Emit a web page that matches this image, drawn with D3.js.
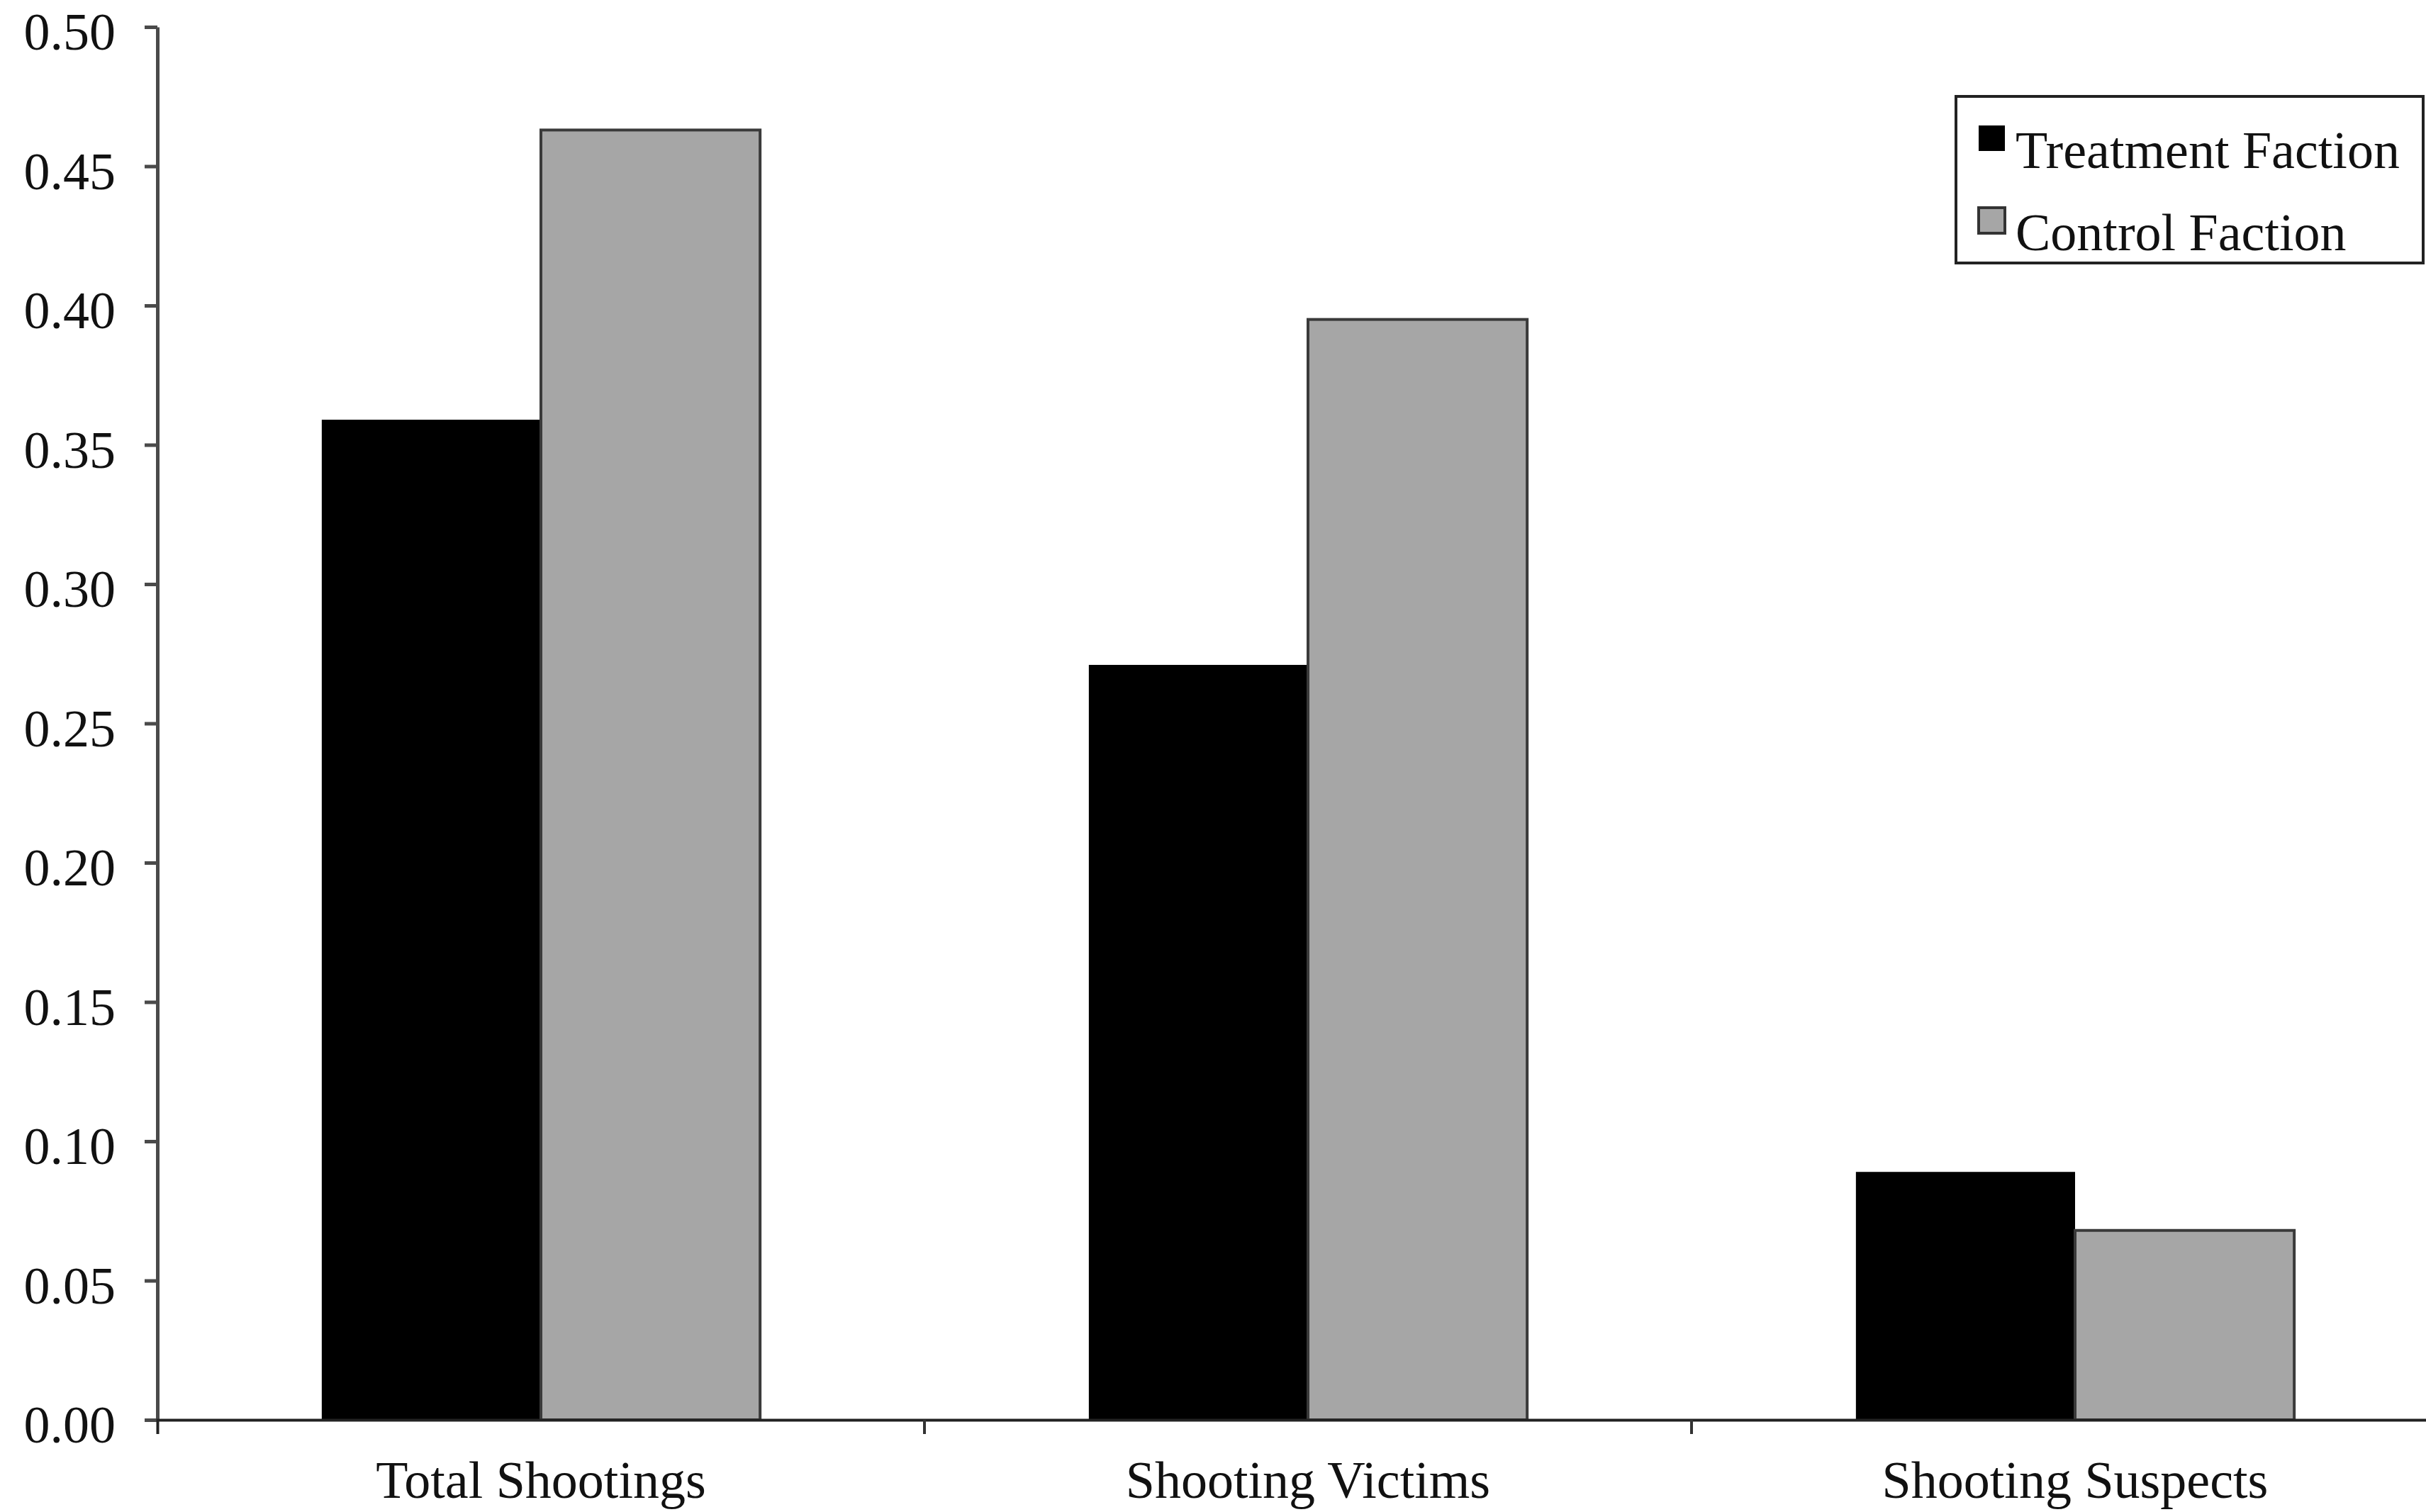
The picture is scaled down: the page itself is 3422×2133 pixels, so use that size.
<!DOCTYPE html>
<html>
<head>
<meta charset="utf-8">
<script src="https://cdn.jsdelivr.net/npm/d3@7"></script>
<style>
  html, body { margin: 0; padding: 0; background: #fff; }
  svg { display: block; }
  text { font-family: "Liberation Serif", "Times New Roman", serif; fill: #111; }
</style>
</head>
<body>
<svg id="chart" width="3422" height="2133"></svg>
<script>
const categories = ["Total Shootings", "Shooting Victims", "Shooting Suspects"];
const seriesNames = ["Treatment Faction", "Control Faction"];
const treatment = [0.359, 0.271, 0.089];
const control = [0.463, 0.395, 0.068];
const yTicks = [0, 0.05, 0.10, 0.15, 0.20, 0.25, 0.30, 0.35, 0.40, 0.45, 0.50];
const colors = ["#000000", "#a6a6a6"];

(function () {
const svg = d3.select("#chart");
const plotLeft = 222, plotBottom = 2003, plotTop = 38;
const bandW = 1082;

const x0 = d3.scaleBand().domain(categories).range([plotLeft, plotLeft + bandW * categories.length]).paddingInner(0).paddingOuter(0);
const x1 = d3.scaleBand().domain(seriesNames).range([0, x0.bandwidth()]).paddingInner(0).paddingOuter(0.75);
const y = d3.scaleLinear().domain([0, 0.5]).range([plotBottom, plotTop]);

const rows = categories.map((c, i) => ({ cat: c, values: [treatment[i], control[i]] }));

// bars
const g = svg.append("g");
rows.forEach(r => {
  r.values.forEach((v, j) => {
    g.append("rect")
      .attr("x", x0(r.cat) + x1(seriesNames[j]))
      .attr("y", y(v))
      .attr("width", x1.bandwidth())
      .attr("height", y(0) - y(v))
      .attr("fill", colors[j])
      .attr("stroke", j === 0 ? "#000" : "#3a3a3a")
      .attr("stroke-width", j === 0 ? 0 : 4);
  });
});

// y axis
const yAxis = d3.axisLeft(y).tickValues(yTicks).tickFormat(d3.format(".2f")).tickSize(18).tickSizeOuter(0).tickPadding(41);
const yg = svg.append("g").attr("transform", `translate(${plotLeft},0)`).call(yAxis);
yg.select(".domain").attr("stroke", "#4a4a4a").attr("stroke-width", 5);
yg.selectAll(".tick line").attr("stroke", "#4a4a4a").attr("stroke-width", 5);
yg.selectAll(".tick text").attr("font-size", 74).attr("dy", "0.43em")
  .attr("font-family", "Liberation Serif").attr("fill", "#111");

// x axis
const xAxis = d3.axisBottom(x0).tickSize(0).tickSizeOuter(20).tickPadding(57);
const xg = svg.append("g").attr("transform", `translate(0,${plotBottom})`).call(xAxis);
xg.select(".domain").attr("stroke", "#222").attr("stroke-width", 4);
xg.selectAll(".tick text").attr("font-size", 74).attr("font-family", "Liberation Serif").attr("fill", "#111");
// boundary ticks between categories
categories.slice(0, -1).forEach(c => {
  const bx = x0(c) + x0.step();
  xg.append("line").attr("x1", bx).attr("x2", bx).attr("y1", 0).attr("y2", 20)
    .attr("stroke", "#333").attr("stroke-width", 4);
});

// legend
const lg = svg.append("g");
lg.append("rect").attr("x", 2759).attr("y", 136).attr("width", 659).attr("height", 235)
  .attr("fill", "#fff").attr("stroke", "#222").attr("stroke-width", 4);
seriesNames.forEach((s, j) => {
  const rowY = 177 + j * 116;
  lg.append("rect").attr("x", 2791).attr("y", rowY).attr("width", 37).attr("height", 36)
    .attr("fill", colors[j]).attr("stroke", j === 0 ? "#000" : "#333").attr("stroke-width", j === 0 ? 0 : 4);
  lg.append("text").attr("x", 2843).attr("y", rowY + 60).attr("font-size", 74).text(s);
});
})();
</script>
</body>
</html>
